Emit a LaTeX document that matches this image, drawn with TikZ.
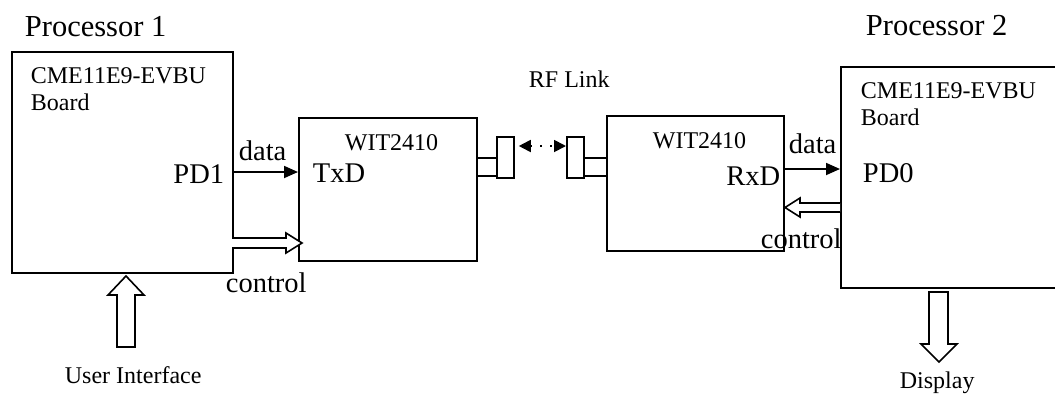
\documentclass[tikz,border=0pt]{standalone}
\usepackage{fontspec}
\setmainfont{Liberation Serif}
\usetikzlibrary{arrows.meta,calc}
\begin{document}
\begin{tikzpicture}[x=1pt,y=-1pt,line width=1.8pt,
  box/.style={draw,rectangle,inner sep=0pt,anchor=north west},
  txt/.style={inner sep=0pt,anchor=base west},
  small/.style={txt,font=\fontsize{24}{24}\selectfont},
  big/.style={txt,font=\fontsize{28.5}{28.5}\selectfont},
  huge/.style={txt,font=\fontsize{30.5}{30.5}\selectfont},
  datatip/.style={-{Triangle[length=14pt,width=12pt]}},
  hollow/.style={draw,fill=white,line width=1.6pt,line join=miter},
  rf/.style={{Triangle[length=12pt,width=12pt]}-{Triangle[length=12pt,width=12pt]},dash pattern=on 2pt off 8pt,line width=1.8pt}]
\useasboundingbox (0,0) rectangle (1055,394);

% boxes
\node[box,minimum width=221pt,minimum height=221pt] (b1) at (11,51) {};
\node[box,minimum width=178pt,minimum height=143pt] (w1) at (298,117) {};
\node[box,minimum width=17pt,minimum height=41pt] (a1) at (496,136) {};
\node[box,minimum width=17pt,minimum height=41pt] (a2) at (566,136) {};
\node[box,minimum width=177pt,minimum height=135pt] (w2) at (606,115) {};
\node[box,minimum width=240pt,minimum height=221pt] (b2) at (840,66) {};

% texts
\node[huge] (p1) at (24,36) {Processor 1};
\node[huge] (p2) at (865,35) {Processor 2};
\node[small] (c1) at (30,83) {CME11E9-EVBU};
\node[small] (c1b) at (30,110) {Board};
\node[small] (c2) at (860,98) {CME11E9-EVBU};
\node[small] (c2b) at (860,125) {Board};
\node[big,anchor=base east] (pd1) at (225,183) {PD1};
\node[big] (pd0) at (862,182) {PD0};
\node[small] (wt1) at (344,150) {WIT2410};
\node[small] (wt2) at (652,148) {WIT2410};
\node[big] (txd) at (312,182) {TxD};
\node[big,anchor=base east] (rxd) at (781,185) {RxD};
\node[big] (dl) at (238,160) {data};
\node[big] (dr) at (788,153) {data};
\node[small] (rfl) at (528,87) {RF Link};
\node[small] (ui) at (64,383) {User Interface};
\node[small] (disp) at (899,388) {Display};

% helper rows
\coordinate (yd1) at (0,172);
\coordinate (yd2) at (0,169);
\coordinate (ys1) at (0,158);
\coordinate (ys2) at (0,176);
\coordinate (yrf) at (0,146);

% data arrows
\draw[datatip] (b1.east |- yd1) -- (w1.west |- yd1);
\draw[datatip] (w2.east |- yd2) -- (b2.west |- yd2);

% antenna stubs
\draw (w1.east |- ys1) -- (a1.west |- ys1);
\draw (w1.east |- ys2) -- (a1.west |- ys2);
\draw (a2.east |- ys1) -- (w2.west |- ys1);
\draw (a2.east |- ys2) -- (w2.west |- ys2);

% RF link
\draw[rf,shorten <=4pt] (a1.east |- yrf) -- (a2.west |- yrf);

% hollow arrows
\draw[hollow] (232,238) -- (286,238) -- (286,233) -- (302,243) -- (286,253) -- (286,248) -- (232,248);
\draw[hollow] (840,203) -- (800,203) -- (800,198) -- (785,207.5) -- (800,217) -- (800,212) -- (840,212);
\draw[hollow] (117,347) -- (117,295) -- (108,295) -- (126,276) -- (144,295) -- (135,295) -- (135,347) -- cycle;
\draw[hollow] (929,292) -- (929,344) -- (921,344) -- (939,362) -- (957,344) -- (948,344) -- (948,292) -- cycle;

% control labels (drawn over lines)
\node[big] (cl) at (225,292) {control};
\node[big] (cr) at (760,248) {control};
\end{tikzpicture}
\end{document}
